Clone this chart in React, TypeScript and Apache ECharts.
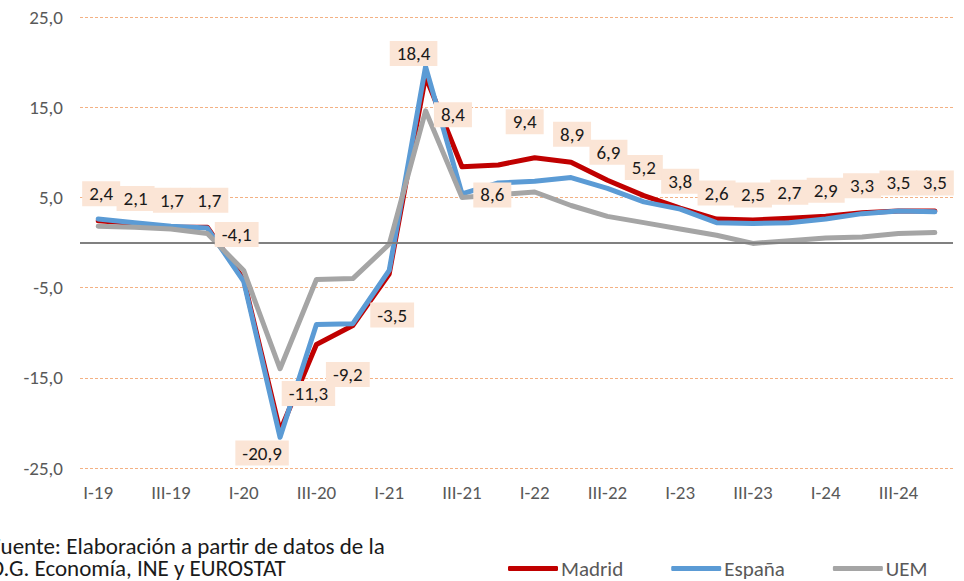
import React, { useEffect, useRef } from 'react';
import * as echarts from 'echarts';

const quarters = [
  'I-19', 'II-19', 'III-19', 'IV-19',
  'I-20', 'II-20', 'III-20', 'IV-20',
  'I-21', 'II-21', 'III-21', 'IV-21',
  'I-22', 'II-22', 'III-22', 'IV-22',
  'I-23', 'II-23', 'III-23', 'IV-23',
  'I-24', 'II-24', 'III-24', 'IV-24',
];

const madrid = [2.4, 2.1, 1.7, 1.7, -4.1, -20.9, -11.3, -9.2, -3.5, 18.4, 8.4, 8.6, 9.4, 8.9, 6.9, 5.2, 3.8, 2.6, 2.5, 2.7, 2.9, 3.3, 3.5, 3.5];
const espana = [2.6, 2.2, 1.8, 1.6, -4.3, -21.6, -9.1, -9.0, -3.1, 19.5, 5.4, 6.6, 6.8, 7.2, 6.0, 4.5, 3.7, 2.2, 2.1, 2.2, 2.6, 3.2, 3.5, 3.4];
const uem = [1.8, 1.7, 1.5, 1.0, -3.1, -14.0, -4.1, -4.0, -0.2, 14.6, 5.0, 5.3, 5.6, 4.1, 2.9, 2.2, 1.5, 0.8, -0.1, 0.2, 0.5, 0.6, 1.0, 1.1];

const yMin = -25;
const yMax = 25;
const yStep = 10;

// label placement (pixel offsets of each Madrid label's centre from its point)
const labelDx = [3, 1, 1, 2, -7, -18, -8, -5, 3, -12, -9, -6, -10, 1, 1, 0, 0, 0, 0, 0, 0, 0, 0, 0];
const labelDy = [-27, -25, -27, -27, -45, 22, 49, 49, 41, -23, -52, 30, -36, -28, -28, -28, -27, -26, -25, -26, -26, -27, -28, -28];

const FONT = "Carlito, 'Liberation Sans Narrow', 'Open Sans', sans-serif";
const fmt = (v: number) => v.toFixed(1).replace('.', ',');

export default function App() {
  const ref = useRef<HTMLDivElement>(null);
  useEffect(() => {
    document.body.style.margin = '0';
    if (!ref.current) return;
    const chart = echarts.init(ref.current, null, { renderer: 'svg' });
    const lineSeries = (name: string, data: number[], color: string) => ({
      name,
      type: 'line',
      data,
      symbol: 'none',
      lineStyle: { color, width: 5, cap: 'round', join: 'round' },
      itemStyle: { color },
      silent: true,
    });
    chart.setOption({
      animation: false,
      textStyle: { fontFamily: FONT },
      grid: { left: 80, right: 11, top: 17, bottom: 113 },
      xAxis: {
        type: 'category',
        data: quarters,
        boundaryGap: true,
        axisLine: { show: false },
        axisTick: { show: false },
        axisLabel: { interval: 1, margin: 15, fontSize: 19, color: '#595959', fontFamily: FONT },
        splitLine: { show: false },
      },
      yAxis: {
        type: 'value',
        min: yMin,
        max: yMax,
        interval: yStep,
        axisLine: { show: false },
        axisTick: { show: false },
        axisLabel: { margin: 17, fontSize: 19, color: '#595959', fontFamily: FONT, formatter: (v: number) => fmt(v) },
        splitLine: { show: true, lineStyle: { color: '#F4B183', width: 1, type: [3, 2] } },
      },
      legend: {
        data: ['Madrid', 'España', 'UEM'],
        left: 508,
        top: 558,
        padding: 0,
        icon: 'roundRect',
        itemWidth: 50,
        itemHeight: 5,
        itemGap: 48,
        textStyle: { fontSize: 21, color: '#595959', fontFamily: FONT, padding: [0, 0, 0, -2] },
      },
      graphic: [
        {
          type: 'text',
          x: -10,
          y: 535,
          style: {
            text: 'Fuente: Elaboración a partir de datos de la\nD.G. Economía, INE y EUROSTAT',
            fontSize: 23,
            lineHeight: 22,
            fill: '#1a1a1a',
            fontFamily: FONT,
          },
        },
      ],
      series: [
        {
          ...lineSeries('Madrid', madrid, '#C00000'),
          markLine: {
            silent: true,
            symbol: 'none',
            label: { show: false },
            lineStyle: { color: '#808080', width: 2, type: 'solid' },
            data: [{ yAxis: 0 }],
          },
        },
        lineSeries('España', espana, '#5B9BD5'),
        lineSeries('UEM', uem, '#A5A5A5'),
        {
          name: 'Madrid etiquetas',
          type: 'line',
          z: 10,
          silent: true,
          symbol: 'circle',
          symbolSize: 1,
          showSymbol: true,
          lineStyle: { color: 'rgba(0,0,0,0)', width: 0 },
          itemStyle: { color: 'rgba(0,0,0,0)' },
          data: madrid.map((v, i) => ({
            value: v,
            label: {
              show: true,
              position: 'inside',
              offset: [labelDx[i], labelDy[i]],
              formatter: () => fmt(v),
              backgroundColor: '#FBE5D6',
              color: '#1a1a1a',
              fontSize: 19,
              fontFamily: FONT,
              padding: [3, 7, 3, 7],
            },
          })),
        },
      ],
    });
    return () => chart.dispose();
  }, []);
  return <div ref={ref} style={{ width: 964, height: 581 }} />;
}
